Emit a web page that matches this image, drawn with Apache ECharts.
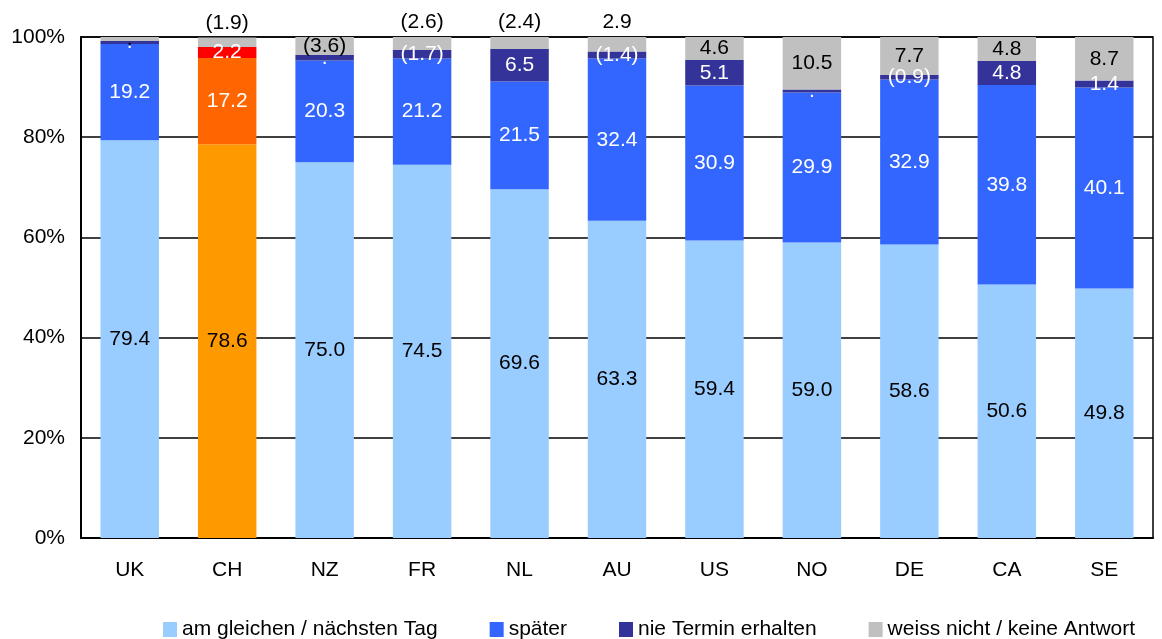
<!DOCTYPE html>
<html>
<head>
<meta charset="utf-8">
<script src="https://cdn.jsdelivr.net/npm/echarts@6/dist/echarts.min.js"></script>
<style>
  html, body { margin: 0; padding: 0; background: #fff; }
  #chart { width: 1162px; height: 639px; }
</style>
</head>
<body>
<div id="chart"></div>
<script>
// Länder
const categories = ['UK', 'CH', 'NZ', 'FR', 'NL', 'AU', 'US', 'NO', 'DE', 'CA', 'SE'];

// Anteile in Prozent je Antwortkategorie
const gleicherTag = [79.4, 78.6, 75.0, 74.5, 69.6, 63.3, 59.4, 59.0, 58.6, 50.6, 49.8];
const spaeter     = [19.2, 17.2, 20.3, 21.2, 21.5, 32.4, 30.9, 29.9, 32.9, 39.8, 40.1];
const nieTermin   = [0.6, 2.2, 1.1, 1.7, 6.5, 1.4, 5.1, 0.6, 0.9, 4.8, 1.4];
const weissNicht  = [0.8, 1.9, 3.6, 2.6, 2.4, 2.9, 4.6, 10.5, 7.7, 4.8, 8.7];

// Beschriftungsart: 'plain' = Zahl, 'paren' = Zahl in Klammern, 'dot' = nur Punkt
const nieLabelArt   = ['dot', 'plain', 'dot', 'paren', 'plain', 'paren', 'plain', 'dot', 'paren', 'plain', 'plain'];
const weissLabelArt = ['dot', 'paren', 'paren', 'paren', 'paren', 'plain', 'plain', 'plain', 'plain', 'plain', 'plain'];

const yTicks = [0, 20, 40, 60, 80, 100];

// Darstellung
const FONT = "'Liberation Sans', Arial, sans-serif";
const FS = 21;
const colors = ['#99CCFF', '#3366FF', '#333399', '#C0C0C0'];
const chColors = ['#FF9900', '#FF6600', '#FF0000', '#C0C0C0'];
const highlight = 'CH';
const labelsAboveBar = ['CH', 'FR', 'NL', 'AU'];

function fmt(v, art) {
  if (art === 'dot') return '.';
  const s = v.toFixed(1);
  return art === 'paren' ? '(' + s + ')' : s;
}

function buildSeries(name, values, idx, textColor, arts) {
  return {
    name: name,
    type: 'bar',
    stack: 'total',
    barWidth: '60%',
    data: values.map((v, i) => {
      const cat = categories[i];
      const item = { value: v };
      if (cat === highlight) item.itemStyle = { color: chColors[idx] };
      const art = arts ? arts[i] : 'plain';
      const lab = { formatter: fmt(v, art) };
      if (idx === 3 && labelsAboveBar.includes(cat)) {
        lab.position = 'top';
        lab.distance = 4;
      }
      item.label = lab;
      return item;
    }),
    itemStyle: { color: colors[idx] },
    label: {
      show: true,
      position: 'inside',
      color: textColor,
      fontFamily: FONT,
      fontSize: FS
    },
    emphasis: { disabled: true }
  };
}

const chart = echarts.init(document.getElementById('chart'), null, { renderer: 'canvas' });

chart.setOption({
  animation: false,
  backgroundColor: '#ffffff',
  grid: {
    left: 81, right: 9, top: 37, bottom: 101,
    show: true, borderColor: '#000', borderWidth: 1.5,
    containLabel: false
  },
  legend: {
    bottom: -6,
    left: 158,
    icon: 'rect',
    itemWidth: 14,
    itemHeight: 15,
    itemGap: 52,
    textStyle: { fontFamily: FONT, fontSize: FS, color: '#000' },
    data: ['am gleichen / nächsten Tag', 'später', 'nie Termin erhalten', 'weiss nicht / keine Antwort']
  },
  xAxis: {
    type: 'category',
    data: categories,
    axisLine: { show: true, lineStyle: { color: '#000', width: 2 } },
    axisTick: { show: false },
    axisLabel: { color: '#000', fontFamily: FONT, fontSize: FS, margin: 22 }
  },
  yAxis: {
    type: 'value',
    min: yTicks[0],
    max: yTicks[yTicks.length - 1],
    interval: yTicks[1] - yTicks[0],
    axisLine: { show: true, lineStyle: { color: '#000', width: 2 } },
    axisTick: { show: false },
    splitLine: { show: true, lineStyle: { color: '#000', width: 1.5 } },
    axisLabel: { color: '#000', fontFamily: FONT, fontSize: FS, margin: 16, formatter: '{value}%' }
  },
  series: [
    buildSeries('am gleichen / nächsten Tag', gleicherTag, 0, '#000', null),
    buildSeries('später', spaeter, 1, '#fff', null),
    buildSeries('nie Termin erhalten', nieTermin, 2, '#fff', nieLabelArt),
    buildSeries('weiss nicht / keine Antwort', weissNicht, 3, '#000', weissLabelArt)
  ]
});
</script>
</body>
</html>
